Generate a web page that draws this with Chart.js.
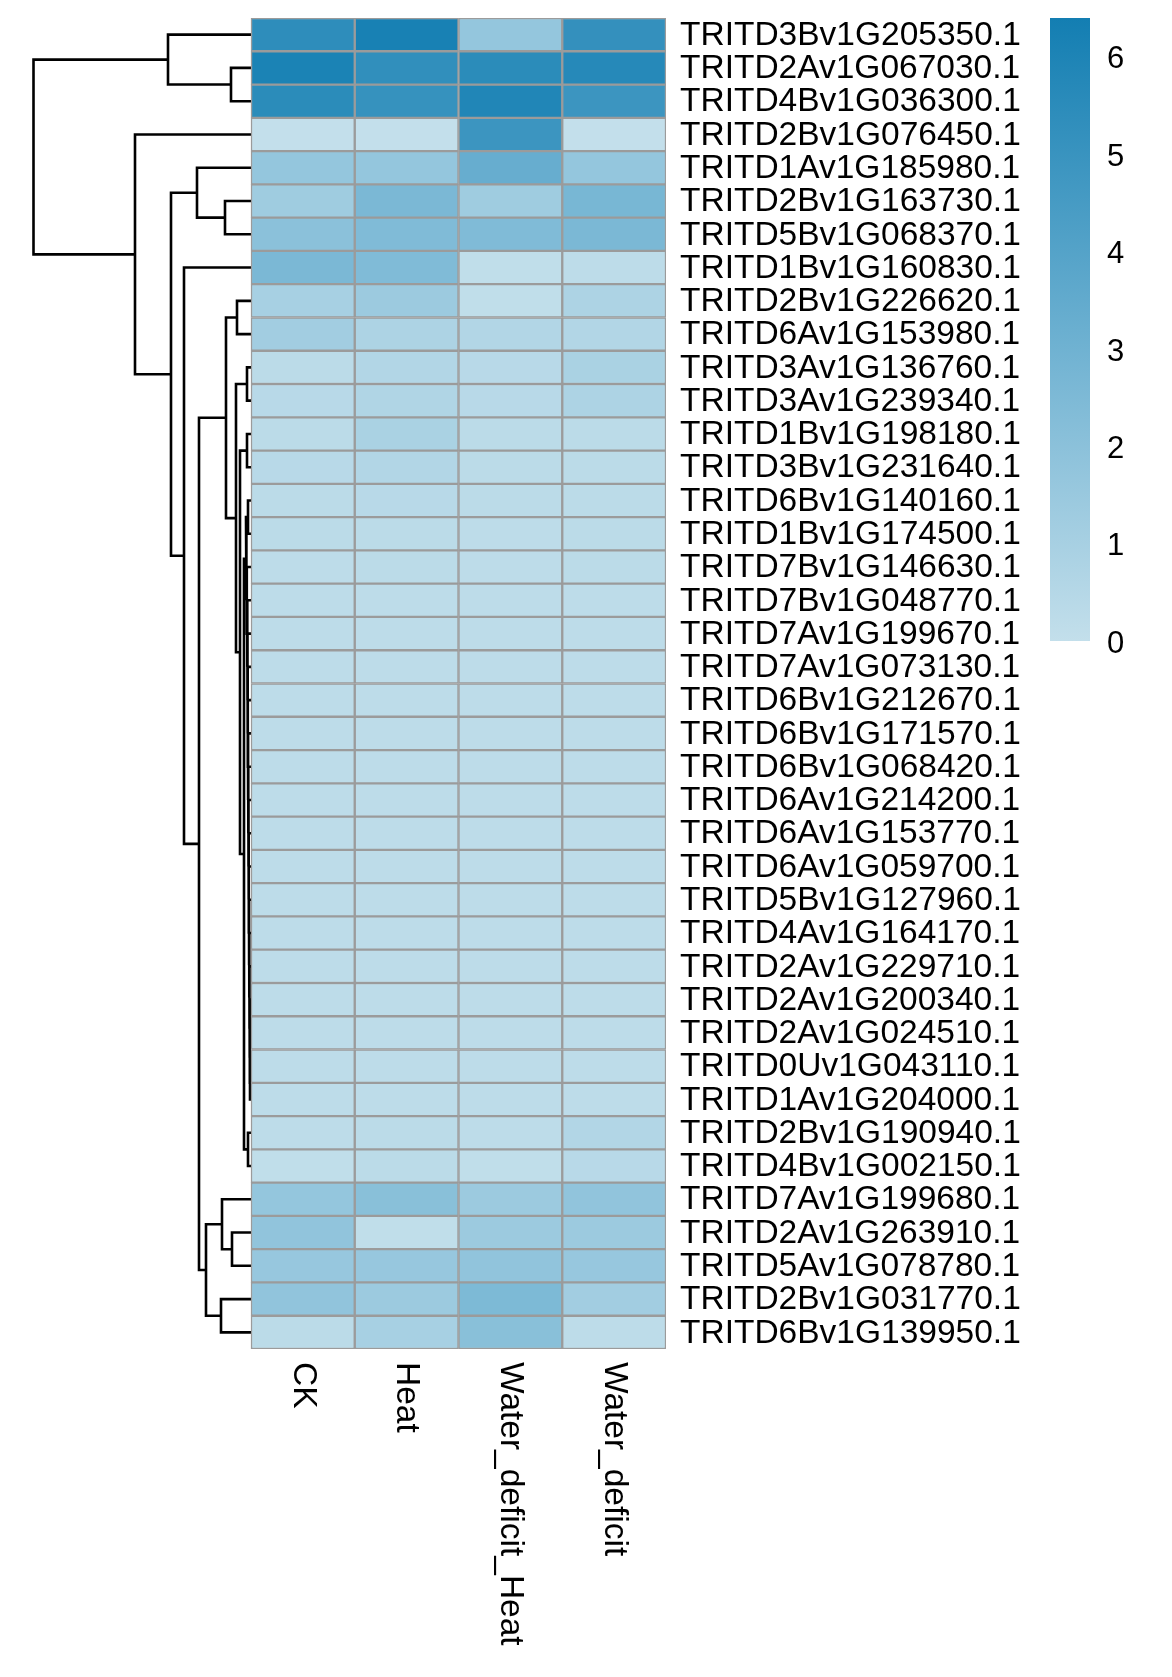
<!DOCTYPE html>
<html>
<head>
<meta charset="utf-8">
<script src="https://cdn.jsdelivr.net/npm/chart.js@4"></script>
<style>
  html, body { margin: 0; padding: 0; background: #fff; }
  #wrap { width: 1172px; height: 1677px; }
</style>
</head>
<body>
<div id="wrap"><canvas id="heat" width="1172" height="1677"></canvas></div>
<script>
// genes, top to bottom
const genes = [
    'TRITD3Bv1G205350.1', 'TRITD2Av1G067030.1', 'TRITD4Bv1G036300.1', 'TRITD2Bv1G076450.1',
    'TRITD1Av1G185980.1', 'TRITD2Bv1G163730.1', 'TRITD5Bv1G068370.1', 'TRITD1Bv1G160830.1',
    'TRITD2Bv1G226620.1', 'TRITD6Av1G153980.1', 'TRITD3Av1G136760.1', 'TRITD3Av1G239340.1',
    'TRITD1Bv1G198180.1', 'TRITD3Bv1G231640.1', 'TRITD6Bv1G140160.1', 'TRITD1Bv1G174500.1',
    'TRITD7Bv1G146630.1', 'TRITD7Bv1G048770.1', 'TRITD7Av1G199670.1', 'TRITD7Av1G073130.1',
    'TRITD6Bv1G212670.1', 'TRITD6Bv1G171570.1', 'TRITD6Bv1G068420.1', 'TRITD6Av1G214200.1',
    'TRITD6Av1G153770.1', 'TRITD6Av1G059700.1', 'TRITD5Bv1G127960.1', 'TRITD4Av1G164170.1',
    'TRITD2Av1G229710.1', 'TRITD2Av1G200340.1', 'TRITD2Av1G024510.1', 'TRITD0Uv1G043110.1',
    'TRITD1Av1G204000.1', 'TRITD2Bv1G190940.1', 'TRITD4Bv1G002150.1', 'TRITD7Av1G199680.1',
    'TRITD2Av1G263910.1', 'TRITD5Av1G078780.1', 'TRITD2Bv1G031770.1', 'TRITD6Bv1G139950.1'
];
const conditions = ['CK', 'Heat', 'Water_deficit_Heat', 'Water_deficit'];

// expression values per condition (same order as genes)
const ckValues = [5.4, 6.1, 5.5, 0.0, 1.7, 1.3, 2.0, 2.6, 1.0, 1.2, 0.3, 0.4, 0.3, 0.4, 0.3, 0.3, 0.2, 0.2, 0.2, 0.2,
    0.2, 0.2, 0.2, 0.2, 0.2, 0.2, 0.2, 0.2, 0.2, 0.2, 0.2, 0.2, 0.2, 0.2, 0.1, 1.7, 1.8, 1.6, 1.8, 0.3];
const heatValues = [6.2, 5.3, 5.1, 0.0, 1.7, 2.6, 2.4, 2.4, 1.4, 0.8, 0.6, 0.7, 0.9, 0.6, 0.4, 0.3, 0.3, 0.2, 0.2, 0.2,
    0.2, 0.2, 0.2, 0.2, 0.2, 0.2, 0.2, 0.2, 0.2, 0.2, 0.2, 0.2, 0.2, 0.3, 0.3, 2.1, 0.1, 1.6, 1.4, 1.0];
const wdHeatValues = [1.7, 5.5, 5.9, 4.9, 3.3, 1.3, 2.4, 0.1, 0.1, 0.6, 0.4, 0.4, 0.3, 0.3, 0.3, 0.2, 0.2, 0.2, 0.2, 0.2,
    0.2, 0.2, 0.2, 0.2, 0.2, 0.2, 0.2, 0.2, 0.2, 0.2, 0.2, 0.2, 0.2, 0.2, 0.1, 1.4, 1.4, 1.8, 2.5, 2.1];
const wdValues = [5.2, 5.7, 4.9, 0.0, 1.7, 2.7, 2.6, 0.2, 0.8, 0.6, 0.9, 0.8, 0.3, 0.3, 0.3, 0.3, 0.3, 0.2, 0.2, 0.2,
    0.2, 0.2, 0.2, 0.2, 0.2, 0.2, 0.2, 0.2, 0.2, 0.2, 0.2, 0.2, 0.2, 0.6, 0.4, 1.8, 1.4, 1.6, 1.2, 0.2];
const allValues = [ckValues, heatValues, wdHeatValues, wdValues];

// colour key ticks
const keyTicks = [0, 1, 2, 3, 4, 5, 6];
const keyMax = 6.4;

// row dendrogram, hclust style: negative = gene row (1-based), positive = earlier merge
const mergeLeft  = [-2, -1, -6, -5, -9, -11, -13, -15, -32, -31, -30, -29, -28, -27, -26, -25, -24, -23, -22, -21,
    -20, -19, -18, -17, 8, -34, 25, 7, 6, 5, -37, -36, -39, 32, 30, -8, 4, -4, 2];
const mergeRight = [-3, 1, -7, 3, -10, -12, -14, -16, -33, 9, 10, 11, 12, 13, 14, 15, 16, 17, 18, 19,
    20, 21, 22, 23, 24, -35, 26, 27, 28, 29, -38, 31, -40, 33, 34, 35, 36, 37, 38];
const mergeHeight = [20, 83, 26, 54, 14, 4, 4, 3, 1.0, 1.2, 1.4, 1.6, 1.8, 2.0, 2.2, 2.4, 2.6, 2.8, 3.0, 3.2,
    3.4, 3.6, 3.8, 4.2, 5, 3, 7, 11, 15, 25, 19, 29, 30, 45, 52, 67, 80, 116, 217.5];

// colour ramp
const rampStops = [[0, [195, 223, 235]], [3.2, [106, 175, 208]], [keyMax, [19, 126, 178]]];
function colorFor(v) {
    for (let i = 1; i < rampStops.length; i++) {
        const [v0, c0] = rampStops[i - 1];
        const [v1, c1] = rampStops[i];
        if (v <= v1 || i === rampStops.length - 1) {
            const t = Math.max(0, Math.min(1, (v - v0) / (v1 - v0)));
            const c = c0.map((a, k) => Math.round(a + (c1[k] - a) * t));
            return `rgb(${c[0]},${c[1]},${c[2]})`;
        }
    }
}

// dendrogram segments
function dendroPoints() {
    const pos = [];
    const pts = [];
    const node = id => id < 0 ? { y: -id, h: 0 } : pos[id - 1];
    for (let i = 0; i < mergeLeft.length; i++) {
        const a = node(mergeLeft[i]);
        const b = node(mergeRight[i]);
        const h = mergeHeight[i];
        pts.push({ x: a.h, y: a.y }, { x: h, y: a.y }, { x: h, y: b.y }, { x: b.h, y: b.y }, { x: NaN, y: NaN });
        pos.push({ y: (a.y + b.y) / 2, h: h });
    }
    return pts;
}

const padTop = 18, padBottom = 328, canvasH = 1677;
const rowPx = (canvasH - padTop - padBottom) / genes.length;

const cellDatasets = conditions.map((c, ci) => ({
    type: 'bar',
    indexAxis: 'y',
    label: c,
    data: genes.map((g, gi) => ({ x: [ci, ci + 1], y: gi + 1, v: allValues[ci][gi] })),
    backgroundColor: ctx => colorFor(ctx.raw.v),
    borderColor: '#9b9b9b',
    borderWidth: 1.5,
    borderSkipped: false,
    grouped: false,
    barThickness: rowPx,
    xAxisID: 'x',
    yAxisID: 'y'
}));

const FONT = '"Liberation Sans", Arial, sans-serif';

// labels and colour key
const labelPlugin = {
    id: 'labels',
    afterDraw(chart) {
        const ctx = chart.ctx;
        const x = chart.scales.x;
        const y = chart.scales.y;
        ctx.save();
        ctx.fillStyle = '#000';
        ctx.font = `33.5px ${FONT}`;
        ctx.textBaseline = 'middle';
        ctx.textAlign = 'left';
        const right = x.getPixelForValue(4);
        genes.forEach((g, i) => ctx.fillText(g, right + 14, y.getPixelForValue(i + 1) + 1));

        const bottom = y.getPixelForValue(40.5);
        conditions.forEach((c, i) => {
            ctx.save();
            ctx.translate(x.getPixelForValue(i + 0.5), bottom + 13);
            ctx.rotate(Math.PI / 2);
            ctx.fillText(c, 0, 0);
            ctx.restore();
        });

        // colour key
        const kx = 1050, kw = 40, kTop = 18, kBottom = 641;
        const perUnit = (kBottom - kTop) / keyMax;
        const grad = ctx.createLinearGradient(0, kBottom, 0, kTop);
        rampStops.forEach(([v]) => grad.addColorStop(v / keyMax, colorFor(v)));
        ctx.fillStyle = grad;
        ctx.fillRect(kx, kTop, kw, kBottom - kTop);
        ctx.fillStyle = '#000';
        ctx.font = `31px ${FONT}`;
        keyTicks.forEach(t => ctx.fillText(String(t), kx + 57, kBottom - t * perUnit + 3));
        ctx.restore();
    }
};

new Chart(document.getElementById('heat').getContext('2d'), {
    type: 'bar',
    data: {
        datasets: [...cellDatasets, {
            type: 'line',
            label: 'dendrogram',
            data: dendroPoints(),
            borderColor: '#000',
            borderWidth: 2.6,
            pointRadius: 0,
            tension: 0,
            spanGaps: false,
            clip: false,
            xAxisID: 'x2',
            yAxisID: 'y'
        }]
    },
    options: {
        responsive: false,
        devicePixelRatio: 1,
        animation: false,
        layout: { padding: { left: 34, right: 506, top: padTop, bottom: padBottom } },
        scales: {
            x: { type: 'linear', min: -217 / 103.75, max: 4, offset: false, display: false },
            x2: { type: 'linear', min: -415, max: 217, reverse: true, offset: false, display: false },
            y: { type: 'linear', min: 0.5, max: 40.5, reverse: true, offset: false, display: false }
        },
        plugins: { legend: { display: false }, tooltip: { enabled: false } }
    },
    plugins: [labelPlugin]
});
</script>
</body>
</html>
